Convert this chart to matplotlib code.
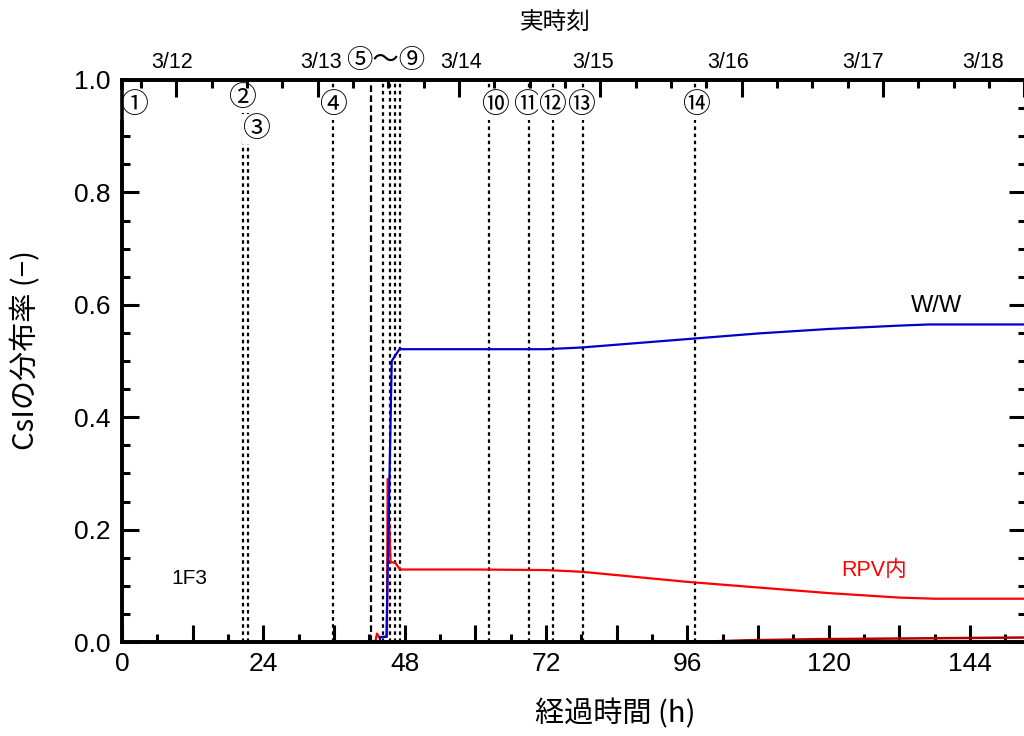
import numpy as np
import matplotlib
matplotlib.use('Agg')
import matplotlib.pyplot as plt
from matplotlib.ticker import MultipleLocator, FixedLocator, NullFormatter, FuncFormatter

plt.rcParams['font.family'] = ['Liberation Sans', 'Noto Sans CJK JP']

# elapsed time (h) since earthquake, CsI distribution fraction
t_ww = [0, 43.8, 43.8, 44.9, 45.8, 47.1, 72, 78, 84, 90, 96, 102, 108, 114, 120, 126, 132, 137, 153.5]
ww = [0, 0, 0.009, 0.009, 0.50, 0.521, 0.521, 0.524, 0.529, 0.534, 0.539, 0.544, 0.549, 0.553, 0.557, 0.560, 0.563, 0.565, 0.565]

t_rpv = [0, 43.0, 43.3, 43.7, 45.0, 45.1, 45.6, 46.4, 47.2, 60, 72, 78, 84, 90, 96, 102, 108, 114, 120, 126, 132, 138, 153.5]
rpv = [0, 0, 0.015, 0.008, 0.01, 0.29, 0.142, 0.141, 0.129, 0.129, 0.128, 0.125, 0.119, 0.113, 0.107,
       0.102, 0.097, 0.092, 0.087, 0.083, 0.079, 0.077, 0.077]

t_other = [45.3, 100, 106, 118, 137, 153.5]
other = [0, 0.001, 0.003, 0.005, 0.0066, 0.008]

# events (h)
ev_t = [0, 20.5, 21.4, 35.8, 42.3, 44.3, 45.5, 46.4, 47.2, 62.4, 69.1, 73.2, 78.3, 97.3]
ev_style = ['dot'] * 4 + ['dash'] + ['dot'] * 9
ev_labels = ['①', '②', '③', '④', '⑩', '⑪', '⑫', '⑬', '⑭']
ev_lab_x = [2.1, 20.4, 22.7, 35.8, 63.3, 68.7, 73.0, 77.9, 97.5]
ev_lab_y = [0.955, 0.968, 0.913, 0.955, 0.955, 0.955, 0.955, 0.955, 0.955]

# real time axis
t0_offset = 9.23  # 3/12 0:00 in elapsed hours
dates = ['3/12', '3/13', '3/14', '3/15', '3/16', '3/17', '3/18']
date_lab_x = [8.5, 33.8, 57.6, 80.0, 102.9, 125.8, 146.2]

xmax = 153.5

fig = plt.figure(figsize=(10.24, 7.36), dpi=100)
ax = fig.add_axes([122/1024, 94/736, 904/1024, 562/736])

for t, s in zip(ev_t, ev_style):
    ls = (0, (3, 1.5)) if s == 'dash' else (0, (1.6, 1.6))
    ax.axvline(t, color='black', lw=1.6, ls=ls, zorder=1)

ax.plot(t_other, other, color='#b00000', lw=1.8, zorder=2)
ax.plot(t_rpv, rpv, color='#ff0000', lw=1.6, zorder=2)
ax.plot(t_ww, ww, color='#0000cc', lw=1.6, zorder=2)

for lab, x, y in zip(ev_labels, ev_lab_x, ev_lab_y):
    ax.text(x, y, lab, fontsize=20, ha='center', va='center', zorder=5, clip_on=False,
            bbox=dict(facecolor='white', edgecolor='none', pad=0.0),
            family=['Noto Sans CJK JP'])

ax.text(44.7, 1.035, '⑤～⑨', fontsize=19, ha='center', va='center', family=['Noto Sans CJK JP'])
ax.text(11.5, 0.113, '1F3', fontsize=15, ha='center', va='center')
ax.text(138.3, 0.597, 'W/W', fontsize=17, ha='center', va='center')
ax.text(127.7, 0.127, 'RPV内', fontsize=15.5, ha='center', va='center', color='#ff0000')

ax.set_xlim(0, xmax)
ax.set_ylim(0, 1.0)
ax.xaxis.set_major_locator(MultipleLocator(12))
ax.xaxis.set_minor_locator(MultipleLocator(6))
ax.xaxis.set_major_formatter(FuncFormatter(lambda v, p: '%d' % v if int(round(v)) % 24 == 0 else ''))
ax.yaxis.set_major_locator(MultipleLocator(0.2))
ax.yaxis.set_minor_locator(MultipleLocator(0.05))
ax.yaxis.set_major_formatter(FuncFormatter(lambda v, p: '%.1f' % v))
ax.tick_params(which='both', direction='in', top=False, right=True, width=2.2, labelsize=19)
ax.tick_params(which='major', length=12)
ax.tick_params(which='minor', length=6)
ax.tick_params(axis='x', pad=7)
ax.tick_params(axis='y', pad=8)
for sp in ax.spines.values():
    sp.set_linewidth(2.6)

ax2 = ax.twiny()
ax2.set_xlim(0, xmax)
ax2.xaxis.set_major_locator(FixedLocator([t0_offset + 24 * i for i in range(7)]))
ax2.xaxis.set_minor_locator(FixedLocator([t0_offset - 6 + 6 * i for i in range(26)]))
ax2.xaxis.set_major_formatter(NullFormatter())
ax2.tick_params(which='both', direction='in', width=2.2)
ax2.tick_params(which='major', length=12)
ax2.tick_params(which='minor', length=6)
for sp in ax2.spines.values():
    sp.set_linewidth(2.6)

for d, x in zip(dates, date_lab_x):
    ax.text(x, 1.032, d, fontsize=15.5, ha='center', va='center')

fig.text(555/1024, 1 - 22/736, '実時刻', fontsize=17, ha='center', va='center', family=['Noto Sans CJK JP'])
fig.text(615/1024, 1 - 714/736, '経過時間 (h)', fontsize=21, ha='center', va='center', family=['Noto Sans CJK JP'])
fig.text(26/1024, 1 - 350/736, 'CsIの分布率 (−)', fontsize=21, ha='center', va='center', rotation=90,
         family=['Noto Sans CJK JP'])

fig.savefig('out.png', dpi=100)
